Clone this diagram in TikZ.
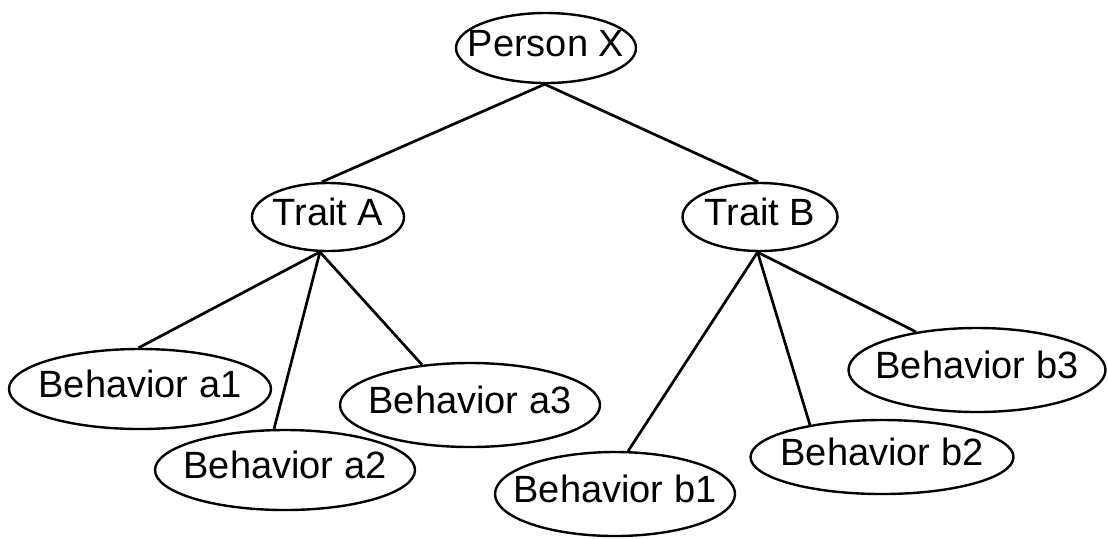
\documentclass[tikz,border=0pt]{standalone}
\usepackage{fontspec}
\setmainfont{Liberation Sans}
\usetikzlibrary{shapes.geometric}
\begin{document}
\begin{tikzpicture}[x=0.5pt,y=-0.5pt,
  oval/.style={draw, ellipse, line width=1.2pt, inner sep=0pt,
    font=\fontsize{19}{21}\selectfont, text height=14pt, text depth=6pt},
  link/.style={line width=1.35pt}]
\useasboundingbox (0,0) rectangle (1108,538);
\node[oval, minimum width=90pt, minimum height=35pt] (px) at (546,48) {\makebox[0pt]{Person X}};
\node[oval, minimum width=76pt, minimum height=34pt] (ta) at (328,217) {\makebox[0pt]{Trait A}};
\node[oval, minimum width=77.5pt, minimum height=34pt] (tb) at (760,217) {\makebox[0pt]{Trait B}};
\node[oval, minimum width=131pt, minimum height=40pt] (a1) at (140,389) {\makebox[0pt]{Behavior a1}};
\node[oval, minimum width=130pt, minimum height=40pt] (a2) at (285,470) {\makebox[0pt]{Behavior a2}};
\node[oval, minimum width=130pt, minimum height=42pt] (a3) at (470,405) {\makebox[0pt]{Behavior a3}};
\node[oval, minimum width=120pt, minimum height=42pt] (b1) at (615,494) {\makebox[0pt]{Behavior b1}};
\node[oval, minimum width=131.5pt, minimum height=37pt] (b2) at (882,457) {\makebox[0pt]{Behavior b2}};
\node[oval, minimum width=128.5pt, minimum height=42pt] (b3) at (977,370) {\makebox[0pt]{Behavior b3}};
\draw[link] (px.268) -- (ta.100);
\draw[link] (px.268) -- (tb.93);
\draw[link] (ta.257) -- (a1.92);
\draw[link] (ta.257) -- (a2.105);
\draw[link] (ta.257) -- (a3.140);
\draw[link] (tb.266) -- (b1.73);
\draw[link] (tb.266) -- (b2.156);
\draw[link] (tb.266) -- (b3.148);
\end{tikzpicture}
\end{document}
